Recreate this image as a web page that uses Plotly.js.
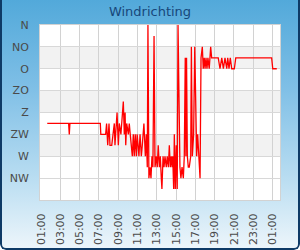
<!DOCTYPE html>
<html>
<head>
<meta charset="utf-8">
<script src="https://cdn.plot.ly/plotly-3.0.1.min.js"></script>
<style>
  html, body { margin: 0; padding: 0; background: #ffffff; }
  #wrap { position: relative; width: 300px; height: 250px; border-radius: 0 0 6px 6px;
    background: linear-gradient(to bottom, #52a9da 0%, #7fbfe6 35%, #b7dcf1 70%, #eef6fb 100%); overflow: hidden; }
  #chart { position: absolute; left: 0; top: 0; width: 300px; height: 250px; }
  #frame { position: absolute; left: 0; top: 0; width: 300px; height: 250px; box-sizing: border-box;
    border-left: 2px solid #0e3a66; border-right: 2px solid #0e3a66; border-bottom: 2px solid #0e3a66;
    border-radius: 0 0 6px 6px; pointer-events: none; }
</style>
</head>
<body>
<div id="wrap"><div id="chart"></div><div id="frame"></div></div>
<script>
// Wind direction categories (degrees) and labels
const dirValues = [0, 45, 90, 135, 180, 225, 270, 315];
const dirLabels = ["N", "NO", "O", "ZO", "Z", "ZW", "W", "NW"];

// Measurement times
const times = [
  "2024-05-01 01:39","2024-05-01 03:52","2024-05-01 03:56","2024-05-01 04:00","2024-05-01 07:09",
  "2024-05-01 07:12","2024-05-01 07:42","2024-05-01 07:48","2024-05-01 07:55","2024-05-01 08:03",
  "2024-05-01 08:09","2024-05-01 08:20","2024-05-01 08:28","2024-05-01 08:36","2024-05-01 08:40",
  "2024-05-01 08:53","2024-05-01 09:01","2024-05-01 09:07","2024-05-01 09:17","2024-05-01 09:32",
  "2024-05-01 09:38","2024-05-01 09:43","2024-05-01 09:47","2024-05-01 09:53","2024-05-01 10:03",
  "2024-05-01 10:09","2024-05-01 10:15","2024-05-01 10:28","2024-05-01 10:34","2024-05-01 10:40",
  "2024-05-01 10:46","2024-05-01 10:53","2024-05-01 10:58","2024-05-01 11:03","2024-05-01 11:09",
  "2024-05-01 11:16","2024-05-01 11:24","2024-05-01 11:30","2024-05-01 11:40","2024-05-01 11:49",
  "2024-05-01 11:55","2024-05-01 12:01","2024-05-01 12:05","2024-05-01 12:11","2024-05-01 12:18",
  "2024-05-01 12:24","2024-05-01 12:30","2024-05-01 12:36","2024-05-01 12:43","2024-05-01 12:49",
  "2024-05-01 12:57","2024-05-01 13:03","2024-05-01 13:09","2024-05-01 13:16","2024-05-01 13:22",
  "2024-05-01 13:28","2024-05-01 13:32","2024-05-01 13:39","2024-05-01 13:45","2024-05-01 13:51",
  "2024-05-01 13:59","2024-05-01 14:05","2024-05-01 14:12","2024-05-01 14:18","2024-05-01 14:24",
  "2024-05-01 14:30","2024-05-01 14:35","2024-05-01 14:39","2024-05-01 14:45","2024-05-01 14:49",
  "2024-05-01 14:55","2024-05-01 15:01","2024-05-01 15:07","2024-05-01 15:12","2024-05-01 15:18",
  "2024-05-01 15:24","2024-05-01 15:30","2024-05-01 15:37","2024-05-01 15:45","2024-05-01 15:51",
  "2024-05-01 15:57","2024-05-01 16:01","2024-05-01 16:05","2024-05-01 16:10","2024-05-01 16:16",
  "2024-05-01 16:22","2024-05-01 16:31","2024-05-01 16:35","2024-05-01 16:41","2024-05-01 16:49",
  "2024-05-01 16:56","2024-05-01 17:02","2024-05-01 17:08","2024-05-01 17:14","2024-05-01 17:22",
  "2024-05-01 17:29","2024-05-01 17:35","2024-05-01 17:43","2024-05-01 17:49","2024-05-01 17:55",
  "2024-05-01 18:00","2024-05-01 18:06","2024-05-01 18:12","2024-05-01 18:18","2024-05-01 18:26",
  "2024-05-01 18:35","2024-05-01 18:41","2024-05-01 19:22","2024-05-01 19:33","2024-05-01 19:44",
  "2024-05-01 19:54","2024-05-01 20:04","2024-05-01 20:15","2024-05-01 20:21","2024-05-01 20:29",
  "2024-05-01 20:37","2024-05-01 20:46","2024-05-01 21:02","2024-05-01 21:11","2024-05-02 00:54",
  "2024-05-02 01:01","2024-05-02 01:26"
];

// Wind direction in degrees
const directions = [
  202.5, 202.5, 225, 202.5, 202.5,
  225, 225, 202.5, 247.5, 202.5,
  247.5, 247.5, 225, 202.5, 247.5,
  180, 247.5, 202.5, 225, 157.5,
  225, 180, 247.5, 202.5, 225,
  202.5, 225, 270, 225, 270,
  225, 270, 225, 247.5, 270,
  225, 270, 247.5, 202.5, 270,
  225, 292.5, 0, 315, 292.5,
  315, 270, 292.5, 22.5, 292.5,
  270, 292.5, 247.5, 292.5, 270,
  315, 337.5, 270, 292.5, 270,
  292.5, 270, 292.5, 247.5, 292.5,
  270, 292.5, 270, 337.5, 225,
  337.5, 247.5, 337.5, 0, 112.5,
  292.5, 315, 292.5, 315, 270,
  67.5, 270, 67.5, 270, 292.5,
  292.5, 270, 45, 270, 225,
  45, 225, 270, 225, 270,
  315, 67.5, 45, 90, 67.5,
  90, 67.5, 90, 67.5, 90,
  45, 67.5, 67.5, 90, 67.5,
  90, 67.5, 90, 67.5, 90,
  67.5, 90, 90, 67.5, 67.5,
  90, 90
];

// Alternating bands (every other sector), derived from category values
const bandShapes = [];
for (let i = 1; i < dirValues.length - 1; i += 2) {
  bandShapes.push({
    type: "rect", xref: "paper", yref: "y", x0: 0, x1: 1,
    y0: dirValues[i], y1: dirValues[i + 1],
    fillcolor: "#f2f2f2", line: { width: 0 }, layer: "below"
  });
}

const trace = {
  x: times, y: directions, type: "scatter", mode: "lines",
  line: { color: "#ff0000", width: 1.3 }, hoverinfo: "skip"
};

const layout = {
  width: 300, height: 250,
  margin: { l: 40, r: 20, t: 25, b: 50 },
  paper_bgcolor: "rgba(0,0,0,0)",
  plot_bgcolor: "#ffffff",
  showlegend: false,
  title: {
    text: "Windrichting", x: 0.5, xanchor: "center", y: 0.955, yanchor: "middle",
    font: { family: "DejaVu Sans", size: 13, color: "#17477a" }
  },
  font: { family: "DejaVu Sans", size: 11, color: "#4a4a4a" },
  xaxis: {
    type: "date",
    range: ["2024-05-01 00:54", "2024-05-02 01:46"],
    tick0: "2024-05-01 01:00", dtick: 7200000,
    tickformat: "%H:%M", tickangle: -90,
    showgrid: true, gridcolor: "#d2d2d2", gridwidth: 1,
    showline: true, linecolor: "#d2d2d2", linewidth: 1, mirror: true,
    ticks: "", ticklabelstandoff: 8,
    tickfont: { family: "DejaVu Sans", size: 11, color: "#4a4a4a" },
    zeroline: false, fixedrange: true
  },
  yaxis: {
    range: [360, 0],
    tickmode: "array", tickvals: dirValues, ticktext: dirLabels,
    showgrid: true, gridcolor: "#d8d8d8", gridwidth: 1,
    showline: true, linecolor: "#d2d2d2", linewidth: 1, mirror: true,
    ticks: "", ticklabelstandoff: 8,
    tickfont: { family: "DejaVu Sans", size: 11, color: "#4a4a4a" },
    zeroline: false, fixedrange: true
  },
  shapes: bandShapes
};

Plotly.newPlot("chart", [trace], layout, { staticPlot: true, displayModeBar: false });
</script>
</body>
</html>
